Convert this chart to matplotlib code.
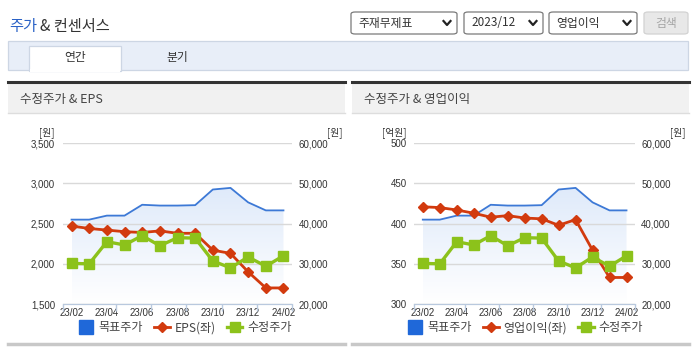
import numpy as np
import matplotlib
matplotlib.use('Agg')
import matplotlib.pyplot as plt
from matplotlib.patches import Rectangle, FancyBboxPatch
from matplotlib.lines import Line2D
from matplotlib.colors import LinearSegmentedColormap

plt.rcParams['font.family'] = ['Noto Sans CJK KR', 'DejaVu Sans']

# 데이터
months = ['23/02', '23/03', '23/04', '23/05', '23/06', '23/07', '23/08',
          '23/09', '23/10', '23/11', '23/12', '24/01', '24/02']
target_price = [41000, 41000, 42000, 42000, 44700, 44500, 44500, 44600,
                48500, 48900, 45300, 43300, 43300]
adj_price = [30100, 30000, 35500, 34700, 37000, 34500, 36500, 36400,
             30700, 29000, 31700, 29400, 32000]
eps = [2470, 2440, 2420, 2400, 2390, 2410, 2380, 2380, 2170, 2130, 1900, 1700, 1700]
op_profit = [421, 420, 417, 413, 408, 410, 407, 406, 398, 405, 367, 333, 333]

price_ticks = [20000, 30000, 40000, 50000, 60000]
eps_ticks = [1500, 2000, 2500, 3000, 3500]
op_ticks = [300, 350, 400, 450, 500]

BLUE = '#3d79d6'
BLUE_SQ = '#1f68d9'
RED = '#d23a0e'
GREEN = '#8cc21b'
TXT = '#333333'
NUM_FONT = ['Liberation Sans Narrow', 'Liberation Sans', 'DejaVu Sans']

W, H = 695, 349
fig = plt.figure(figsize=(W / 100, H / 100), dpi=100)


def box(x0, y0, x1, y1, **kw):
    fig.add_artist(Rectangle((x0 / W, 1 - y1 / H), (x1 - x0) / W, (y1 - y0) / H,
                             transform=fig.transFigure, **kw))


def txt(x, y, s, **kw):
    kw.setdefault('va', 'center')
    kw.setdefault('color', TXT)
    fig.text(x / W, 1 - y / H, s, **kw)


def hline(x0, x1, y, **kw):
    fig.add_artist(Line2D([x0 / W, x1 / W], [1 - y / H, 1 - y / H],
                          transform=fig.transFigure, **kw))


# ---- 상단 제목 / 선택 박스
txt(9, 27, '주가', color='#2b62c6', fontsize=11)
txt(40, 27, '& 컨센서스', fontsize=11)

def dropdown(x0, x1, label):
    fig.add_artist(FancyBboxPatch((x0 / W, 1 - 34 / H), (x1 - x0) / W, 22 / H,
                                  boxstyle='round,pad=0,rounding_size=0.006',
                                  transform=fig.transFigure, facecolor='white',
                                  edgecolor='#7a7a7a', lw=0.9))
    txt(x0 + 7, 23, label, fontsize=8.5)
    cx = x1 - 10
    fig.add_artist(Line2D([(cx - 3.5) / W, cx / W, (cx + 3.5) / W],
                          [1 - 21 / H, 1 - 25 / H, 1 - 21 / H],
                          transform=fig.transFigure, color='#222222', lw=1.6))

dropdown(351, 457, '주재무제표')
dropdown(464, 543, '2023/12')
dropdown(549, 637, '영업이익')
fig.add_artist(FancyBboxPatch((644 / W, 1 - 34 / H), 44 / W, 22 / H,
                              boxstyle='round,pad=0,rounding_size=0.006',
                              transform=fig.transFigure, facecolor='#e8e8e8',
                              edgecolor='#d2d2d2', lw=0.9))
txt(666, 23, '검색', fontsize=8.5, color='#a5a5a5', ha='center')

# ---- 탭
box(8, 41, 688, 70, facecolor='#e8eef8', edgecolor='#cdd6e4', lw=0.9)
box(29, 46, 121, 71, facecolor='white', edgecolor='#cdd6e4', lw=0.9)
box(29.6, 69, 120.4, 71.5, facecolor='white', edgecolor='none')
txt(75, 58, '연간', fontsize=8.5, ha='center')
txt(177, 58, '분기', fontsize=8.5, ha='center')

# ---- 패널 틀
for px0, px1, title in [(8, 345, '수정주가 & EPS'), (352, 689, '수정주가 & 영업이익')]:
    box(px0, 83, px1, 113, facecolor='#f1f1f1', edgecolor='none')
    hline(px0, px1, 82, color='#333333', lw=2.2)
    hline(px0, px1, 113, color='#dddddd', lw=1)
    hline(px0, px1, 344, color='#c8c8c8', lw=2.5)
    txt(px0 + 12, 99, title, fontsize=9, color='#444444')


def make_chart(xl, xr, left_vals, left_ticks, left_fmt, left_unit, left_label,
               unit_xl, unit_xr, legend_cx):
    x = np.arange(len(months))
    ax = fig.add_axes([xl / W, 1 - 304 / H, (xr - xl) / W, (304 - 143.3) / H])
    ax2 = ax.twinx()
    ax.set_zorder(ax2.get_zorder() + 1)
    ax.patch.set_visible(False)

    # 목표주가 면 (그라데이션)
    poly = ax2.fill_between(x, target_price, price_ticks[0], facecolor='none', edgecolor='none')
    grad = np.linspace(0, 1, 256).reshape(-1, 1)
    cmap = LinearSegmentedColormap.from_list('g', ['#ffffff', '#dfeafa'])
    img = ax2.imshow(grad, cmap=cmap, extent=[x[0], x[-1], price_ticks[0], max(target_price)],
                     origin='lower', aspect='auto', zorder=1)
    img.set_clip_path(poly.get_paths()[0], ax2.transData)
    ax2.plot(x, target_price, color=BLUE, lw=1.3, zorder=3)

    ax.plot(x, left_vals, color=RED, lw=2, marker='D', ms=5, zorder=3)
    ax.plot(x, adj_price, color=GREEN, lw=2.4, marker='s', ms=7.5, zorder=4,
            transform=ax2.transData)

    ax.set_xlim(-0.5, len(months) - 0.5)
    ax.set_ylim(left_ticks[0], left_ticks[-1])
    ax2.set_ylim(price_ticks[0], price_ticks[-1])

    ax2.set_yticks(price_ticks)
    ax2.set_yticklabels([f'{v:,}' for v in price_ticks])
    ax.set_yticks(left_ticks)
    ax.set_yticklabels([left_fmt(v) for v in left_ticks])
    ax2.yaxis.grid(True, color='#d9d9d9', lw=1)
    ax2.set_axisbelow(False)

    ax.set_xticks(x[::2])
    ax.set_xticklabels(months[::2])
    ax.set_xticks([-0.5, 2.5, 4.5, 6.5, 8.5, 10.5, 12.5], minor=True)
    ax.tick_params(axis='x', which='major', length=0, pad=3, labelsize=7, labelcolor=TXT)
    ax.tick_params(axis='x', which='minor', length=5, color='#b9c9de', width=1)
    ax.tick_params(axis='y', length=0, pad=5.5, labelsize=7, labelcolor=TXT)
    ax2.tick_params(axis='y', length=0, pad=4.5, labelsize=7, labelcolor=TXT)
    for a in (ax, ax2):
        for lab in a.get_xticklabels() + a.get_yticklabels():
            lab.set_family(NUM_FONT)
        for s in ('top', 'left', 'right'):
            a.spines[s].set_visible(False)
        a.spines['bottom'].set_color('#b9c9de')

    txt(unit_xl, 133, left_unit, fontsize=7, ha='center')
    txt(unit_xr, 133, '[원]', fontsize=7, ha='center')

    handles = [
        Line2D([], [], ls='none', marker='s', ms=10, color=BLUE_SQ),
        Line2D([], [], color=RED, lw=2, marker='D', ms=5),
        Line2D([], [], color=GREEN, lw=2.4, marker='s', ms=7),
    ]
    ax.legend(handles, ['목표주가', left_label, '수정주가'], loc='center', ncol=3,
              bbox_to_anchor=(legend_cx / W, 1 - 328 / H), bbox_transform=fig.transFigure,
              frameon=False, fontsize=8.7, handlelength=1.3, handletextpad=0.4,
              columnspacing=0.9, labelcolor='#444444')
    return ax, ax2


make_chart(62.7, 292.3, eps, eps_ticks, lambda v: f'{v:,}', '[원]', 'EPS(좌)', 47, 335, 185)
make_chart(414.3, 635, op_profit, op_ticks, lambda v: f'{v}', '[억원]', '영업이익(좌)', 394, 678, 525)

fig.savefig('out.png', dpi=100)
